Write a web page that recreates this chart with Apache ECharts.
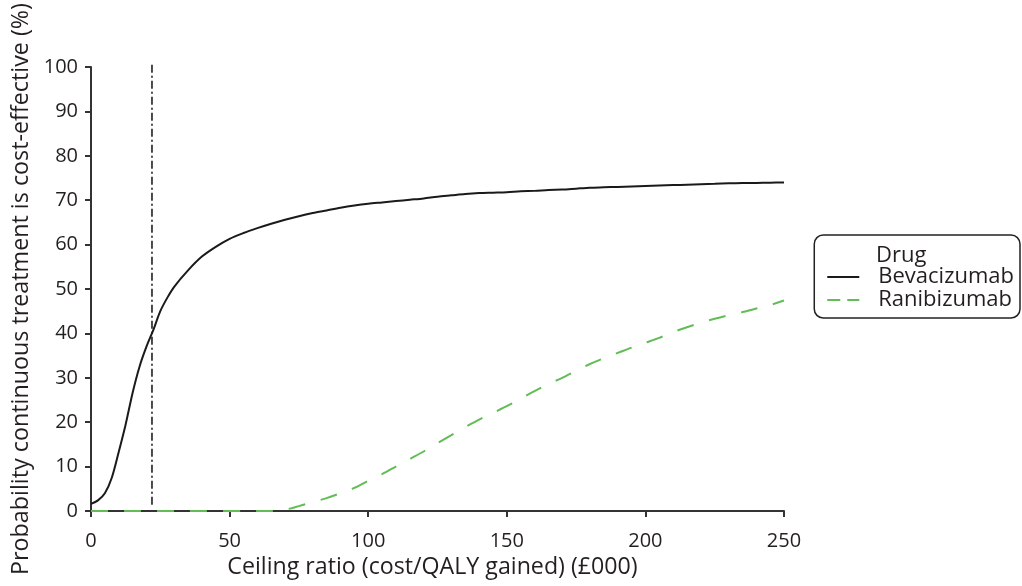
<!DOCTYPE html>
<html>
<head>
<meta charset="utf-8">
<script src="https://cdn.jsdelivr.net/npm/echarts@6/dist/echarts.min.js"></script>
<style>
  html, body { margin: 0; padding: 0; background: #fff; }
  #chart { width: 1022px; height: 586px; }
</style>
</head>
<body>
<div id="chart"></div>
<script>
// Ceiling ratio (£000) sample points
const ceilingRatio = [0, 2.5, 5, 7.5, 10, 12.5, 15, 17.5, 20, 22.5, 25, 27.5, 30, 35, 40, 45, 50, 55, 60, 65,
  70, 75, 80, 85, 90, 95, 100, 105, 110, 115, 120, 125, 130, 135, 140, 145, 150, 155, 160, 165, 170, 175,
  180, 185, 190, 195, 200, 205, 210, 215, 220, 225, 230, 235, 240, 245, 250];

// Probability (%) that each drug is cost-effective
const bevacizumab = [1.6, 2.4, 4.0, 7.5, 13.3, 19.5, 26.6, 32.5, 37.0, 40.8, 45.0, 48.0, 50.5, 54.2, 57.3, 59.5, 61.3, 62.6, 63.7, 64.7,
  65.6, 66.4, 67.1, 67.7, 68.3, 68.8, 69.2, 69.5, 69.8, 70.1, 70.4, 70.8, 71.1, 71.4, 71.6, 71.7, 71.8, 72.0, 72.1, 72.3, 72.4, 72.6,
  72.8, 72.9, 73.0, 73.1, 73.2, 73.3, 73.4, 73.5, 73.6, 73.7, 73.8, 73.85, 73.9, 73.95, 74.0];
const ranibizumab = [0, 0, 0, 0, 0, 0, 0, 0, 0, 0, 0, 0, 0, 0, 0, 0, 0, 0, 0, 0,
  0.3, 1.1, 2.0, 2.9, 4.0, 5.2, 6.8, 8.3, 10.0, 11.7, 13.4, 15.3, 17.1, 18.9, 20.6, 22.1, 23.6, 25.3, 27.0, 28.6, 30.0, 31.6,
  33.1, 34.4, 35.6, 36.8, 37.9, 39.0, 40.3, 41.4, 42.4, 43.3, 44.1, 44.8, 45.6, 46.4, 47.4];

// Willingness-to-pay threshold marker (£000) and its vertical extent (%)
const thresholdX = [22, 22];
const thresholdY = [1.4, 101.2];

const seriesNames = ['Bevacizumab', 'Ranibizumab'];
const legendTitle = 'Drug';
const xAxisTitle = 'Ceiling ratio (cost/QALY gained) (£000)';
const yAxisTitle = 'Probability continuous treatment is cost-effective (%)';

const FONT = '"Open Sans", "Noto Sans", sans-serif';
const INK = '#231f20';
const GREEN = '#62bd57';

const pair = (xs, ys) => xs.map((x, i) => [x, ys[i]]);

const chart = echarts.init(document.getElementById('chart'), null, { renderer: 'canvas' });

chart.setOption({
  animation: false,
  backgroundColor: '#ffffff',
  textStyle: { fontFamily: FONT, color: INK },
  grid: { left: 91, right: 238, top: 67, bottom: 75, containLabel: false, outerBoundsMode: 'none' },
  xAxis: {
    type: 'value',
    min: 0, max: 250, interval: 50,
    name: xAxisTitle,
    nameLocation: 'middle',
    nameGap: 41,
    nameTextStyle: { fontFamily: FONT, fontSize: 23.2, color: INK, padding: [0, 10, 0, 0] },
    axisLine: { show: true, lineStyle: { color: '#333', width: 2 } },
    axisTick: { show: true, length: 6, lineStyle: { color: '#333', width: 2 } },
    axisLabel: { fontFamily: FONT, fontSize: 20, color: INK, margin: 20 },
    splitLine: { show: false }
  },
  yAxis: {
    type: 'value',
    min: 0, max: 100, interval: 10,
    name: yAxisTitle,
    nameLocation: 'middle',
    nameGap: 49,
    nameTextStyle: { fontFamily: FONT, fontSize: 23.3, color: INK },
    axisLine: { show: true, lineStyle: { color: '#333', width: 2 } },
    axisTick: { show: true, length: 6, lineStyle: { color: '#333', width: 2 } },
    axisLabel: { fontFamily: FONT, fontSize: 20, color: INK, margin: 13 },
    splitLine: { show: false }
  },
  legend: {
    data: [
      { name: seriesNames[0] },
      { name: seriesNames[1], lineStyle: { type: [13, 7] } }
    ],
    orient: 'vertical',
    right: 2,
    top: 235,
    padding: [31, 6, 7, 12],
    itemWidth: 32,
    itemHeight: 14,
    itemGap: 1,
    borderColor: '#222',
    borderWidth: 1.5,
    borderRadius: 9,
    itemStyle: { opacity: 0 },
    formatter: '{t|{name}}',
    textStyle: {
      fontFamily: FONT, fontSize: 22, color: INK, lineHeight: 22,
      rich: { t: { fontFamily: FONT, fontSize: 22, color: INK, lineHeight: 22, padding: [0, 0, 0, 14] } }
    }
  },
  graphic: [{
    type: 'text',
    x: 876,
    y: 256,
    style: { text: legendTitle, font: '22px ' + FONT, fill: INK, verticalAlign: 'middle' }
  }],
  series: [
    {
      name: seriesNames[0],
      type: 'line',
      data: pair(ceilingRatio, bevacizumab),
      smooth: 0.3,
      symbol: 'none',
      color: '#1a1a1a',
      lineStyle: { color: '#1a1a1a', width: 2 },
      z: 3
    },
    {
      name: seriesNames[1],
      type: 'line',
      data: pair(ceilingRatio, ranibizumab),
      smooth: 0.3,
      symbol: 'none',
      color: GREEN,
      lineStyle: { color: GREEN, width: 2, type: [17, 16] },
      z: 4
    },
    {
      name: 'threshold',
      type: 'line',
      data: pair(thresholdX, thresholdY),
      clip: false,
      symbol: 'none',
      silent: true,
      lineStyle: { color: '#111', width: 1.5, type: [8, 3, 2, 3] },
      z: 2
    }
  ]
});
</script>
</body>
</html>
